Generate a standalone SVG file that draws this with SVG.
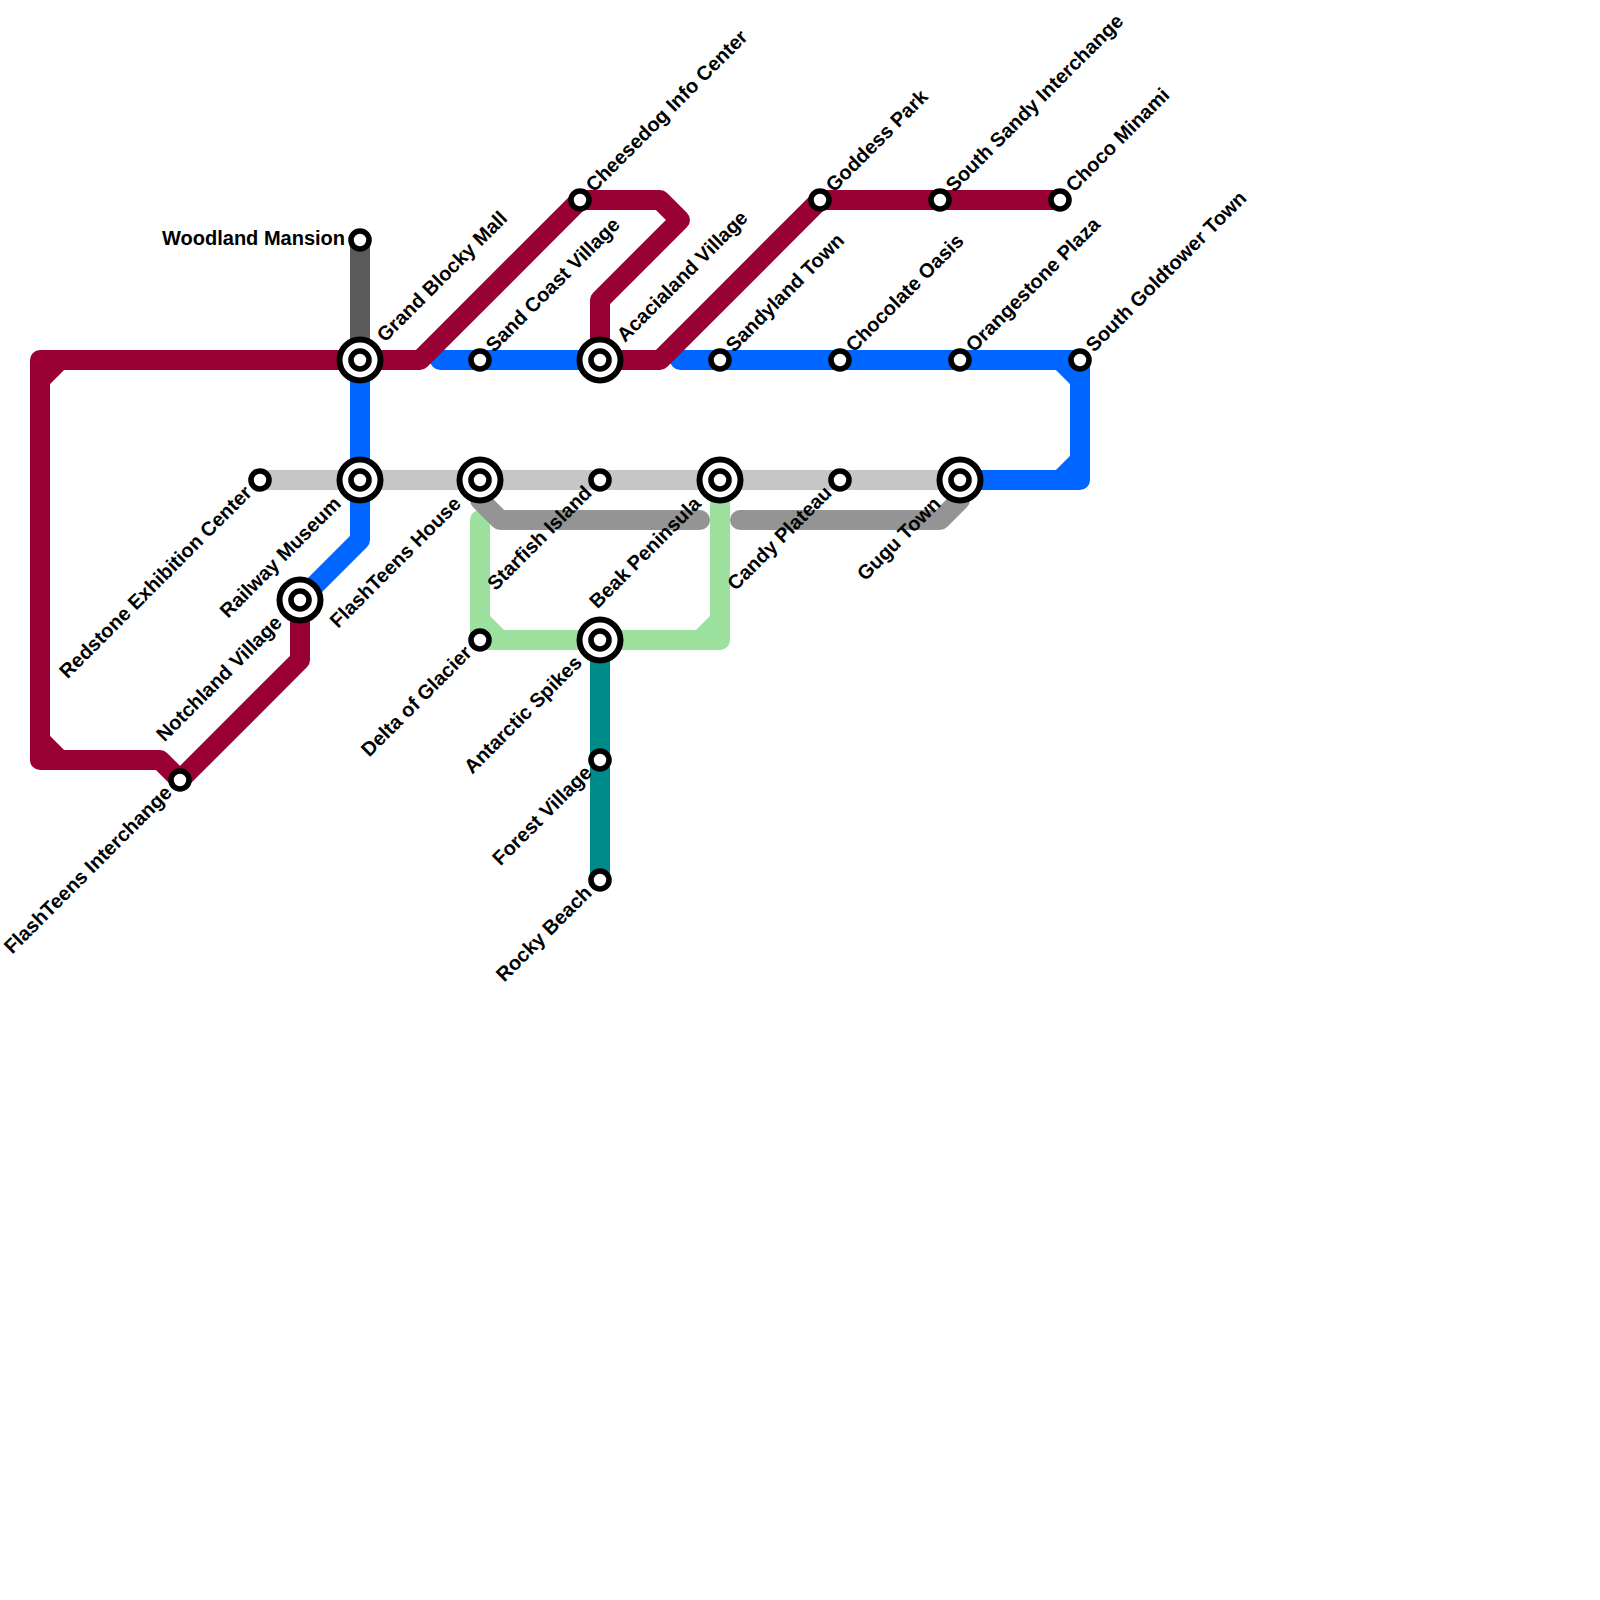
<svg xmlns="http://www.w3.org/2000/svg" width="1600" height="1600" viewBox="0 0 1600 1600">
<style>
.l{fill:none;stroke-width:20;stroke-linejoin:round;stroke-linecap:butt}
.r{stroke:#990033}.b{stroke:#0066ff}.g{stroke:#9ce19f}.t{stroke:#008b8b}.dk{stroke:#5a5a5a}.lt{stroke:#c6c6c6}.md{stroke:#949494}
.cap{stroke-linecap:round}
.s{fill:#fff;stroke:#000;stroke-width:5.6}
.o{fill:#fff;stroke:#000;stroke-width:6}
text{font-family:"Liberation Sans",Arial,sans-serif;font-weight:bold;font-size:20px;fill:#000}
.e{text-anchor:end}
</style>
<rect width="1600" height="1600" fill="#fff"/>
<g id="connectors">
<path class="l dk" d="M360 240V360"/>
<path class="l lt" d="M260 480H960"/>
<path class="l g cap" d="M480 520V640H720V480"/>
<path class="l g" d="M480 620L500 640M700 640L720 620"/>
<path class="l md cap" d="M700 520H500L480 500V480"/>
<path class="l md cap" d="M740 520H940L960 500V480"/>
<path class="l t" d="M600 640V880"/>
<path class="l b" d="M360 360V540L300 600"/>
<path class="l b cap" d="M440 360H600"/>
<path class="l b cap" d="M680 360H1080V480H960"/>
<path class="l b" d="M1060 360L1080 380M1080 460L1060 480"/>
<path class="l r" d="M180 780L160 760H40V360H420L580 200H660L680 220L600 300V360H660L820 200H1060"/>
<path class="l r" d="M40 380L60 360M40 740L60 760"/>
<path class="l r" d="M180 780L300 660V600"/>
</g>
<g id="woodland-mansion"><circle class="s" cx="360" cy="240" r="9"/><text class="e" x="345" y="245">Woodland Mansion</text></g>
<g id="grand-blocky-mall"><circle class="o" cx="360" cy="360" r="20.5"/><circle class="s" cx="360" cy="360" r="9"/><text transform="translate(385 343) rotate(-45)">Grand Blocky Mall</text></g>
<g id="railway-museum"><circle class="o" cx="360" cy="480" r="20.5"/><circle class="s" cx="360" cy="480" r="9"/><text class="e" transform="translate(342 505) rotate(-45)">Railway Museum</text></g>
<g id="redstone"><circle class="s" cx="260" cy="480" r="9"/><text class="e" transform="translate(253 494) rotate(-45)">Redstone Exhibition Center</text></g>
<g id="notchland-village"><circle class="o" cx="300" cy="600" r="20.5"/><circle class="s" cx="300" cy="600" r="9"/><text class="e" transform="translate(283 624) rotate(-45)">Notchland Village</text></g>
<g id="flashteens-interchange"><circle class="s" cx="180" cy="780" r="9"/><text class="e" transform="translate(173 794) rotate(-45)">FlashTeens Interchange</text></g>
<g id="sand-coast-village"><circle class="s" cx="480" cy="360" r="9"/><text transform="translate(494 353) rotate(-45)">Sand Coast Village</text></g>
<g id="acacialand-village"><circle class="o" cx="600" cy="360" r="20.5"/><circle class="s" cx="600" cy="360" r="9"/><text transform="translate(625 343) rotate(-45)">Acacialand Village</text></g>
<g id="cheesedog"><circle class="s" cx="580" cy="200" r="9"/><text transform="translate(594 193) rotate(-45)">Cheesedog Info Center</text></g>
<g id="sandyland-town"><circle class="s" cx="720" cy="360" r="9"/><text transform="translate(734 353) rotate(-45)">Sandyland Town</text></g>
<g id="chocolate-oasis"><circle class="s" cx="840" cy="360" r="9"/><text transform="translate(854 353) rotate(-45)">Chocolate Oasis</text></g>
<g id="orangestone-plaza"><circle class="s" cx="960" cy="360" r="9"/><text transform="translate(974 353) rotate(-45)">Orangestone Plaza</text></g>
<g id="south-goldtower-town"><circle class="s" cx="1080" cy="360" r="9"/><text transform="translate(1094 353) rotate(-45)">South Goldtower Town</text></g>
<g id="goddess-park"><circle class="s" cx="820" cy="200" r="9"/><text transform="translate(834 193) rotate(-45)">Goddess Park</text></g>
<g id="south-sandy-interchange"><circle class="s" cx="940" cy="200" r="9"/><text transform="translate(954 193) rotate(-45)">South Sandy Interchange</text></g>
<g id="choco-minami"><circle class="s" cx="1060" cy="200" r="9"/><text transform="translate(1074 193) rotate(-45)">Choco Minami</text></g>
<g id="flashteens-house"><circle class="o" cx="480" cy="480" r="20.5"/><circle class="s" cx="480" cy="480" r="9"/><text class="e" transform="translate(462 505) rotate(-45)">FlashTeens House</text></g>
<g id="starfish-island"><circle class="s" cx="600" cy="480" r="9"/><text class="e" transform="translate(593 494) rotate(-45)">Starfish Island</text></g>
<g id="beak-peninsula"><circle class="o" cx="720" cy="480" r="20.5"/><circle class="s" cx="720" cy="480" r="9"/><text class="e" transform="translate(702 505) rotate(-45)">Beak Peninsula</text></g>
<g id="candy-plateau"><circle class="s" cx="840" cy="480" r="9"/><text class="e" transform="translate(833 494) rotate(-45)">Candy Plateau</text></g>
<g id="gugu-town"><circle class="o" cx="960" cy="480" r="20.5"/><circle class="s" cx="960" cy="480" r="9"/><text class="e" transform="translate(942 505) rotate(-45)">Gugu Town</text></g>
<g id="delta-of-glacier"><circle class="s" cx="480" cy="640" r="9"/><text class="e" transform="translate(473 654) rotate(-45)">Delta of Glacier</text></g>
<g id="antarctic-spikes"><circle class="o" cx="600" cy="640" r="20.5"/><circle class="s" cx="600" cy="640" r="9"/><text class="e" transform="translate(583 664) rotate(-45)">Antarctic Spikes</text></g>
<g id="forest-village"><circle class="s" cx="600" cy="760" r="9"/><text class="e" transform="translate(593 774) rotate(-45)">Forest Village</text></g>
<g id="rocky-beach"><circle class="s" cx="600" cy="880" r="9"/><text class="e" transform="translate(593 894) rotate(-45)">Rocky Beach</text></g>
</svg>
